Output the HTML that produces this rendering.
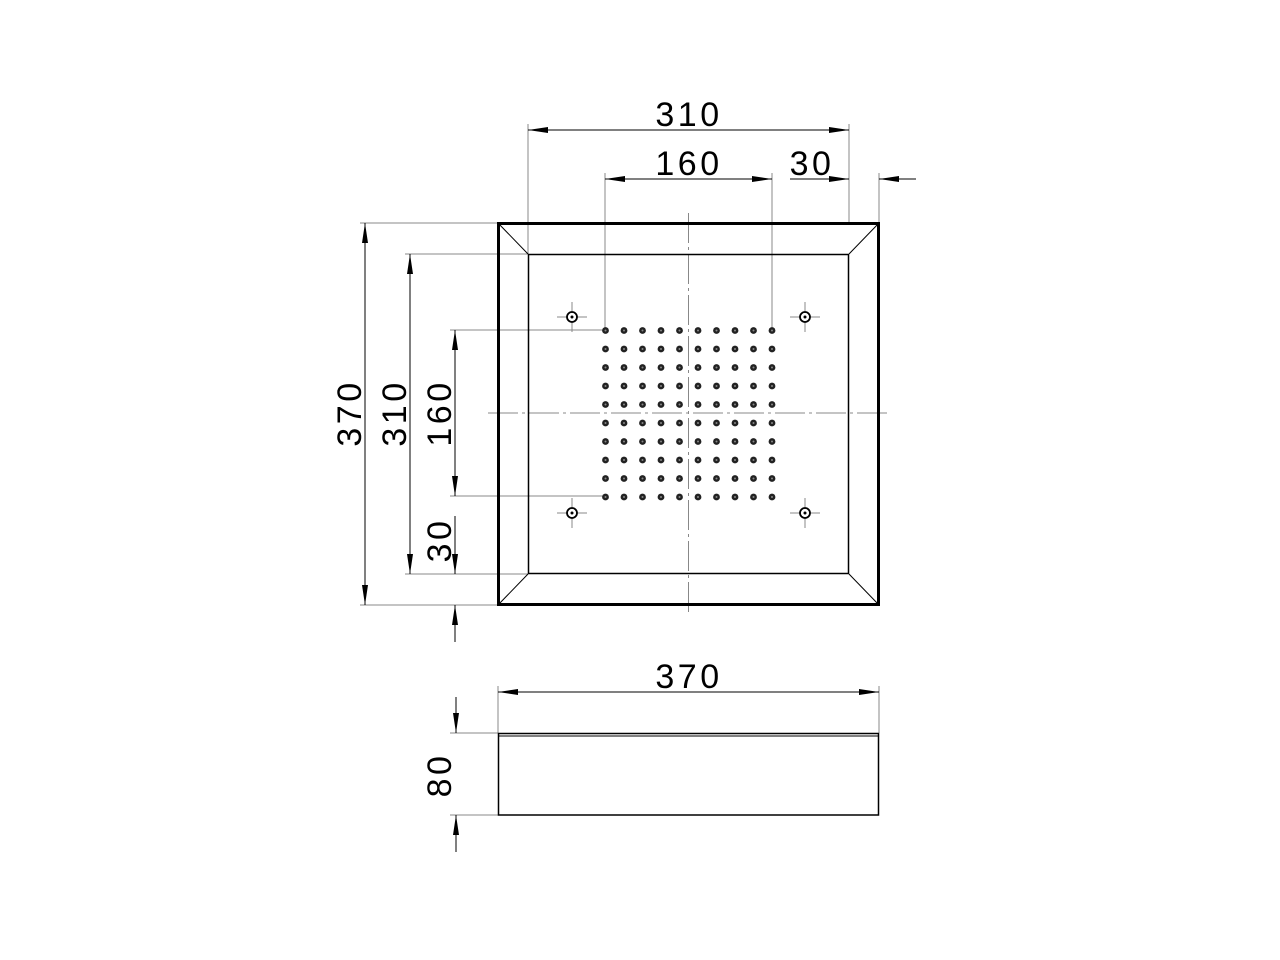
<!DOCTYPE html>
<html><head><style>html,body{margin:0;padding:0;background:#fff}svg{display:block}text{font-family:"Liberation Sans",sans-serif;font-size:34px;letter-spacing:3.5px;fill:#000}</style></head>
<body>
<svg width="1280" height="960" viewBox="0 0 1280 960" xmlns="http://www.w3.org/2000/svg">
<defs>
<marker id="a" viewBox="0 0 20 6" refX="20" refY="3" markerWidth="20" markerHeight="6" markerUnits="userSpaceOnUse" orient="auto"><path d="M0,0 L20,3 L0,6 z" fill="#000"/></marker>
</defs>
<g stroke="#888" stroke-width="1" fill="none">
<line x1="528" y1="124" x2="528" y2="254"/>
<line x1="849" y1="124" x2="849" y2="223"/>
<line x1="605" y1="173" x2="605" y2="330"/>
<line x1="772" y1="173" x2="772" y2="330"/>
<line x1="879" y1="173" x2="879" y2="223"/>
<line x1="360" y1="223" x2="498" y2="223"/>
<line x1="360" y1="605" x2="498" y2="605"/>
<line x1="405" y1="254" x2="528" y2="254"/>
<line x1="405" y1="574" x2="528" y2="574"/>
<line x1="450" y1="330" x2="605" y2="330"/>
<line x1="450" y1="496" x2="605" y2="496"/>
<line x1="498" y1="686" x2="498" y2="733"/>
<line x1="879" y1="686" x2="879" y2="733"/>
<line x1="450" y1="733" x2="498" y2="733"/>
<line x1="450" y1="815" x2="498" y2="815"/>
<line x1="688.5" y1="213" x2="688.5" y2="615" stroke-dasharray="30,4,3,4"/>
<line x1="488" y1="413" x2="888" y2="413" stroke-dasharray="30,4,3,4"/>
</g>
<g stroke="#000" stroke-width="1" fill="none">
<line x1="849" y1="130" x2="528" y2="130" marker-end="url(#a)"/>
<line x1="528" y1="130" x2="849" y2="130" marker-end="url(#a)"/>
<line x1="605" y1="179" x2="772" y2="179" marker-end="url(#a)"/>
<line x1="772" y1="179" x2="605" y2="179" marker-end="url(#a)"/>
<line x1="790" y1="179" x2="849" y2="179" marker-end="url(#a)"/>
<line x1="916" y1="179" x2="879" y2="179" marker-end="url(#a)"/>
<line x1="365" y1="605" x2="365" y2="223" marker-end="url(#a)"/>
<line x1="365" y1="223" x2="365" y2="605" marker-end="url(#a)"/>
<line x1="410" y1="574" x2="410" y2="254" marker-end="url(#a)"/>
<line x1="410" y1="254" x2="410" y2="574" marker-end="url(#a)"/>
<line x1="455" y1="496" x2="455" y2="330" marker-end="url(#a)"/>
<line x1="455" y1="330" x2="455" y2="496" marker-end="url(#a)"/>
<line x1="455" y1="516" x2="455" y2="574" marker-end="url(#a)"/>
<line x1="455" y1="642" x2="455" y2="605" marker-end="url(#a)"/>
<line x1="879" y1="692" x2="498" y2="692" marker-end="url(#a)"/>
<line x1="498" y1="692" x2="879" y2="692" marker-end="url(#a)"/>
<line x1="456" y1="697" x2="456" y2="733" marker-end="url(#a)"/>
<line x1="456" y1="852" x2="456" y2="815" marker-end="url(#a)"/>
<rect x="498.5" y="223.5" width="380" height="381" stroke-width="3"/>
<rect x="528.5" y="254.5" width="320" height="319" stroke-width="1.5"/>
<line x1="498" y1="223" x2="528" y2="254"/>
<line x1="879" y1="223" x2="849" y2="254"/>
<line x1="498" y1="605" x2="528" y2="574"/>
<line x1="879" y1="605" x2="849" y2="574"/>
<rect x="498.5" y="733.5" width="380" height="81.5" stroke-width="1.5"/>
<line x1="498" y1="736" x2="879" y2="736"/>
</g>
<g stroke-width="1">
<g transform="translate(572,317)"><line x1="-15" y1="0" x2="15" y2="0" stroke="#888"/><line x1="0" y1="-15" x2="0" y2="15" stroke="#888"/><circle r="5" fill="#fff" stroke="#000" stroke-width="1.8"/><circle r="1.5" fill="#000"/></g>
<g transform="translate(805,317)"><line x1="-15" y1="0" x2="15" y2="0" stroke="#888"/><line x1="0" y1="-15" x2="0" y2="15" stroke="#888"/><circle r="5" fill="#fff" stroke="#000" stroke-width="1.8"/><circle r="1.5" fill="#000"/></g>
<g transform="translate(572,513)"><line x1="-15" y1="0" x2="15" y2="0" stroke="#888"/><line x1="0" y1="-15" x2="0" y2="15" stroke="#888"/><circle r="5" fill="#fff" stroke="#000" stroke-width="1.8"/><circle r="1.5" fill="#000"/></g>
<g transform="translate(805,513)"><line x1="-15" y1="0" x2="15" y2="0" stroke="#888"/><line x1="0" y1="-15" x2="0" y2="15" stroke="#888"/><circle r="5" fill="#fff" stroke="#000" stroke-width="1.8"/><circle r="1.5" fill="#000"/></g>
</g>
<g id="dots"></g>
<text x="689" y="126" text-anchor="middle">310</text>
<text x="689" y="175" text-anchor="middle">160</text>
<text x="812" y="175" text-anchor="middle">30</text>
<text x="689" y="688" text-anchor="middle">370</text>
<text transform="translate(361,413) rotate(-90)" text-anchor="middle">370</text>
<text transform="translate(406,413) rotate(-90)" text-anchor="middle">310</text>
<text transform="translate(451,413) rotate(-90)" text-anchor="middle">160</text>
<text transform="translate(451,540) rotate(-90)" text-anchor="middle">30</text>
<text transform="translate(451,775) rotate(-90)" text-anchor="middle">80</text>
</svg>
<script>
var g=document.getElementById('dots'),s='';
for(var i=0;i<10;i++)for(var j=0;j<10;j++){var x=605.5+i*18.5,y=330.5+j*18.5;s+='<circle cx="'+x+'" cy="'+y+'" r="3.4" fill="#222"/><circle cx="'+x+'" cy="'+y+'" r="1" fill="#888"/>';}
g.innerHTML=s;
</script>
</body></html>
